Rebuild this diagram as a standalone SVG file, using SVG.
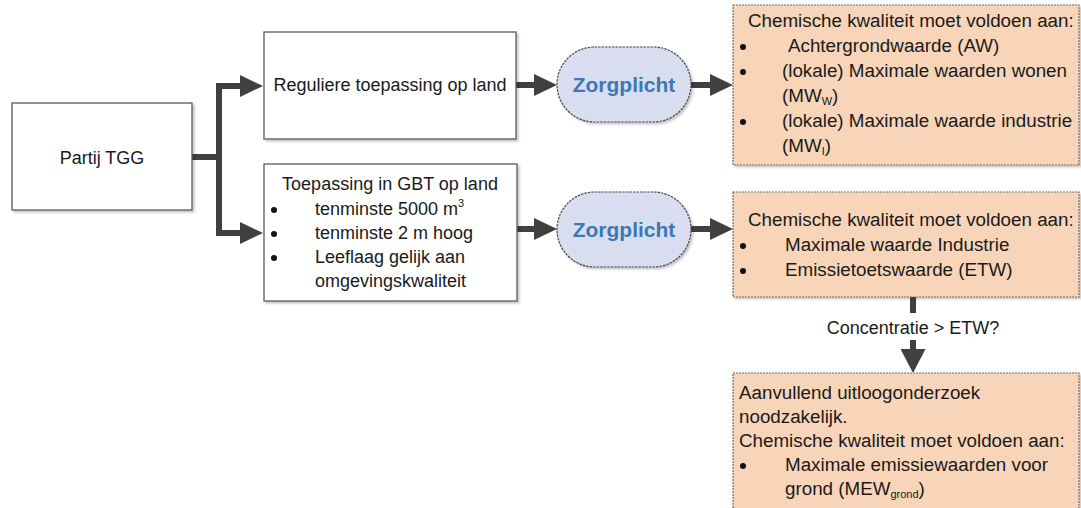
<svg xmlns="http://www.w3.org/2000/svg" width="1081" height="508" viewBox="0 0 1081 508">
  <style>
    text { font-family: "Liberation Sans", Arial, sans-serif; font-size: 18px; fill: #1a1a1a; }
    .req-text text, text.req-text { font-size: 18.8px; }
    .box { fill: #ffffff; stroke: #5a5a5a; stroke-width: 1.3; filter: url(#shadow); }
    .req { fill: #f8d5b9; stroke: #6e6e6e; stroke-width: 1.2; stroke-dasharray: 2 1; filter: url(#shadow); }
    .duty { fill: #d8deef; stroke: #4a4a4a; stroke-width: 1.2; stroke-dasharray: 2.5 1; filter: url(#shadow); }
    .duty-label { font-weight: bold; font-size: 21px; fill: #3d78b4; text-anchor: middle; }
    .mid { text-anchor: middle; }
    .dot { fill: #111; }
    .sub { font-size: 11px; }
    .link { fill: none; stroke: #404040; stroke-width: 6; stroke-linejoin: miter; marker-end: url(#head); }
    .link-plain { fill: none; stroke: #404040; stroke-width: 6; }
  </style>
  <defs>
    <filter id="shadow" x="-5%" y="-5%" width="115%" height="120%">
      <feDropShadow dx="2" dy="2" stdDeviation="1.2" flood-color="#000" flood-opacity="0.22"/>
    </filter>
    <marker id="head" viewBox="0 0 23 22" refX="0" refY="11" markerWidth="23" markerHeight="22" markerUnits="userSpaceOnUse" orient="auto">
      <path d="M0,0 L23,11 L0,22 Z" fill="#404040"/>
    </marker>
    <marker id="head-down" viewBox="0 0 24 25" refX="0" refY="12.5" markerWidth="24" markerHeight="25" markerUnits="userSpaceOnUse" orient="auto">
      <path d="M0,0 L24,12.5 L0,25 Z" fill="#404040"/>
    </marker>
  </defs>

  <!-- connectors -->
  <g id="connectors">
    <path class="link" d="M192,157 H219 V86 H240"/>
    <path class="link" d="M219,157 V233 H240"/>
    <path class="link" d="M516,85 H534"/>
    <path class="link" d="M691,85 H710"/>
    <path class="link" d="M510,229 H534"/>
    <path class="link" d="M691,229 H710"/>
    <path class="link-plain" d="M913,297 V313"/>
    <path class="link" style="marker-end:url(#head-down)" d="M913,340 V349"/>
    <text class="mid" x="913" y="334">Concentratie &gt; ETW?</text>
  </g>

  <!-- source batch -->
  <g id="partij">
    <rect class="box" x="12" y="103" width="180" height="107"/>
    <text class="mid" x="102" y="164">Partij TGG</text>
  </g>

  <!-- regular use on land -->
  <g id="regulier">
    <rect class="box" x="264" y="32" width="252" height="107"/>
    <text class="mid" x="390" y="91">Reguliere toepassing op land</text>
  </g>

  <!-- large-scale application (GBT) -->
  <g id="gbt">
    <rect class="box" x="264" y="164" width="253" height="137"/>
    <text class="mid" x="390" y="190">Toepassing in GBT op land</text>
    <circle class="dot" cx="274" cy="210" r="3"/>
    <text x="315" y="214.5">tenminste 5000 m<tspan class="sub" dy="-8">3</tspan></text>
    <circle class="dot" cx="274" cy="234" r="3"/>
    <text x="315" y="239">tenminste 2 m hoog</text>
    <circle class="dot" cx="274" cy="258" r="3"/>
    <text x="315" y="263">Leeflaag gelijk aan</text>
    <text x="315" y="287">omgevingskwaliteit</text>
  </g>

  <!-- duty of care, upper branch -->
  <g id="zorgplicht-1">
    <rect class="duty" x="557" y="47" width="134" height="75" rx="37.5" ry="37.5"/>
    <text class="duty-label" x="624" y="92">Zorgplicht</text>
  </g>

  <!-- duty of care, lower branch -->
  <g id="zorgplicht-2">
    <rect class="duty" x="557" y="192" width="134" height="75" rx="37.5" ry="37.5"/>
    <text class="duty-label" x="624" y="237">Zorgplicht</text>
  </g>

  <!-- quality requirements, regular use -->
  <g id="eisen-regulier" class="req-text">
    <rect class="req" x="733" y="5" width="346" height="160"/>
    <text x="748" y="27">Chemische kwaliteit moet voldoen aan:</text>
    <circle class="dot" cx="743" cy="47" r="3"/>
    <text x="788" y="52">Achtergrondwaarde (AW)</text>
    <circle class="dot" cx="743" cy="72" r="3"/>
    <text x="782" y="77">(lokale) Maximale waarden wonen</text>
    <text x="782" y="102">(MW<tspan class="sub" dy="3">W</tspan><tspan dy="-3">)</tspan></text>
    <circle class="dot" cx="743" cy="122" r="3"/>
    <text x="782" y="127">(lokale) Maximale waarde industrie</text>
    <text x="782" y="152">(MW<tspan class="sub" dy="3">I</tspan><tspan dy="-3">)</tspan></text>
  </g>

  <!-- quality requirements, GBT -->
  <g id="eisen-gbt" class="req-text">
    <rect class="req" x="733" y="192" width="346" height="105"/>
    <text x="748" y="226">Chemische kwaliteit moet voldoen aan:</text>
    <circle class="dot" cx="743" cy="246" r="3"/>
    <text x="785" y="251">Maximale waarde Industrie</text>
    <circle class="dot" cx="743" cy="271" r="3"/>
    <text x="785" y="276">Emissietoetswaarde (ETW)</text>
  </g>

  <!-- leaching test requirements -->
  <g id="uitloog" class="req-text">
    <rect class="req" x="733" y="373" width="346" height="140"/>
    <text x="739" y="399">Aanvullend uitloogonderzoek</text>
    <text x="739" y="423">noodzakelijk.</text>
    <text x="739" y="447">Chemische kwaliteit moet voldoen aan:</text>
    <circle class="dot" cx="743" cy="466" r="3"/>
    <text x="785" y="471">Maximale emissiewaarden voor</text>
    <text x="785" y="495">grond (MEW<tspan class="sub" dy="3">grond</tspan><tspan dy="-3">)</tspan></text>
  </g>
</svg>
